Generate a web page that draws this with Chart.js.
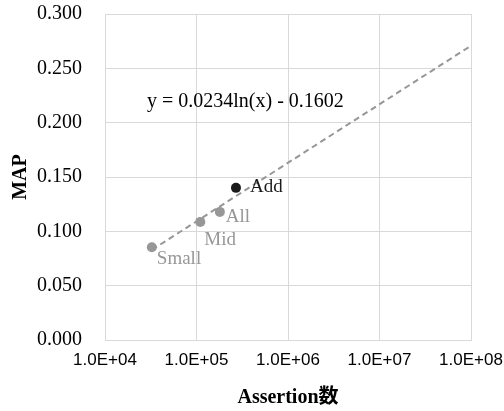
<!DOCTYPE html>
<html>
<head>
<meta charset="utf-8">
<script src="https://cdn.jsdelivr.net/npm/chart.js@4/dist/chart.umd.min.js"></script>
<style>
html,body{margin:0;padding:0;background:#fff;}
#wrap{width:504px;height:411px;position:relative;}
</style>
</head>
<body>
<div id="wrap"><canvas id="c"></canvas></div>
<script>
// ---- data ----
const categories = ["Small", "Mid", "All", "Add"];
const assertionCounts = [32500, 110000, 180000, 270000];
const mapValues = [0.0854, 0.1087, 0.1179, 0.140];
const trendX = [32500, 100000000];
const trendY = [0.0829, 0.2708];
const trendLabel = "y = 0.0234ln(x) - 0.1602";
const xTickValues = [1e4, 1e5, 1e6, 1e7, 1e8];
const xTickLabels = ["1.0E+04", "1.0E+05", "1.0E+06", "1.0E+07", "1.0E+08"];
const yTickLabelsDigits = 3;

const GRAY = "#979797";
const DARK = "#1a1a1a";
const pointColors = [GRAY, GRAY, GRAY, DARK];
const labelOffsets = [[5, 12], [4, 18], [6, 5], [14, -1]];

const SERIF = '"Liberation Serif", "Times New Roman", serif';
const SANS = '"Liberation Sans", Arial, sans-serif';
const CLEAR = 'rgba(0,0,0,0)';

const labelPlugin = {
  id: 'labels',
  afterDatasetsDraw(chart) {
    const ctx = chart.ctx;
    const meta = chart.getDatasetMeta(1);
    ctx.save();
    ctx.font = '19px ' + SERIF;
    ctx.textAlign = 'left';
    ctx.textBaseline = 'middle';
    meta.data.forEach((el, i) => {
      ctx.fillStyle = pointColors[i];
      ctx.fillText(categories[i], el.x + labelOffsets[i][0], el.y + labelOffsets[i][1]);
    });
    // trendline equation
    const ca = chart.chartArea;
    ctx.fillStyle = '#000';
    ctx.font = '20px ' + SERIF;
    ctx.fillText(trendLabel, ca.left + 42, ca.top + 88);
    ctx.restore();
  }
};

new Chart(document.getElementById('c'), {
  type: 'scatter',
  data: {
    datasets: [
      {
        label: 'trend',
        data: trendX.map((x, i) => ({x: x, y: trendY[i]})),
        showLine: true,
        borderColor: GRAY,
        borderWidth: 2,
        borderDash: [6, 4],
        pointRadius: 0,
        order: 2
      },
      {
        label: 'MAP',
        data: assertionCounts.map((x, i) => ({x: x, y: mapValues[i]})),
        pointRadius: 5,
        pointHoverRadius: 5,
        pointBackgroundColor: pointColors,
        pointBorderColor: pointColors,
        pointBorderWidth: 0,
        order: 1
      }
    ]
  },
  options: {
    responsive: true,
    maintainAspectRatio: false,
    animation: false,
    layout: {padding: {left: 0, right: 33, top: 14, bottom: 0}},
    plugins: {legend: {display: false}, tooltip: {enabled: false}},
    scales: {
      x: {
        type: 'logarithmic',
        min: 1e4,
        max: 1e8,
        afterBuildTicks: s => { s.ticks = xTickValues.map(v => ({value: v})); },
        afterFit: s => { s.height = 71; },
        ticks: {
          callback: (v) => { const i = xTickValues.indexOf(v); return i >= 0 ? xTickLabels[i] : ''; },
          color: '#000',
          font: {family: SANS, size: 17},
          padding: 0,
          maxRotation: 0,
          autoSkip: false
        },
        grid: {color: '#d9d9d9', lineWidth: 1, drawTicks: true, tickLength: 10, tickColor: CLEAR},
        border: {color: '#d9d9d9'},
        title: {
          display: true,
          text: 'Assertion数',
          color: '#000',
          font: {family: SERIF + ', "Noto Sans CJK JP"', size: 20, weight: 'bold'},
          padding: {top: 0, bottom: 1}
        }
      },
      y: {
        min: 0,
        max: 0.3,
        afterFit: s => { s.width = 105; },
        ticks: {
          stepSize: 0.05,
          callback: v => Number(v).toFixed(yTickLabelsDigits),
          color: '#000',
          font: {family: SERIF, size: 20},
          padding: 0
        },
        grid: {color: '#d9d9d9', lineWidth: 1, drawTicks: true, tickLength: 23, tickColor: CLEAR},
        border: {color: '#d9d9d9'},
        title: {
          display: true,
          text: 'MAP',
          color: '#000',
          font: {family: SERIF, size: 20, weight: 'bold'},
          padding: {top: 9, bottom: 0}
        }
      }
    }
  },
  plugins: [labelPlugin]
});
</script>
</body>
</html>
